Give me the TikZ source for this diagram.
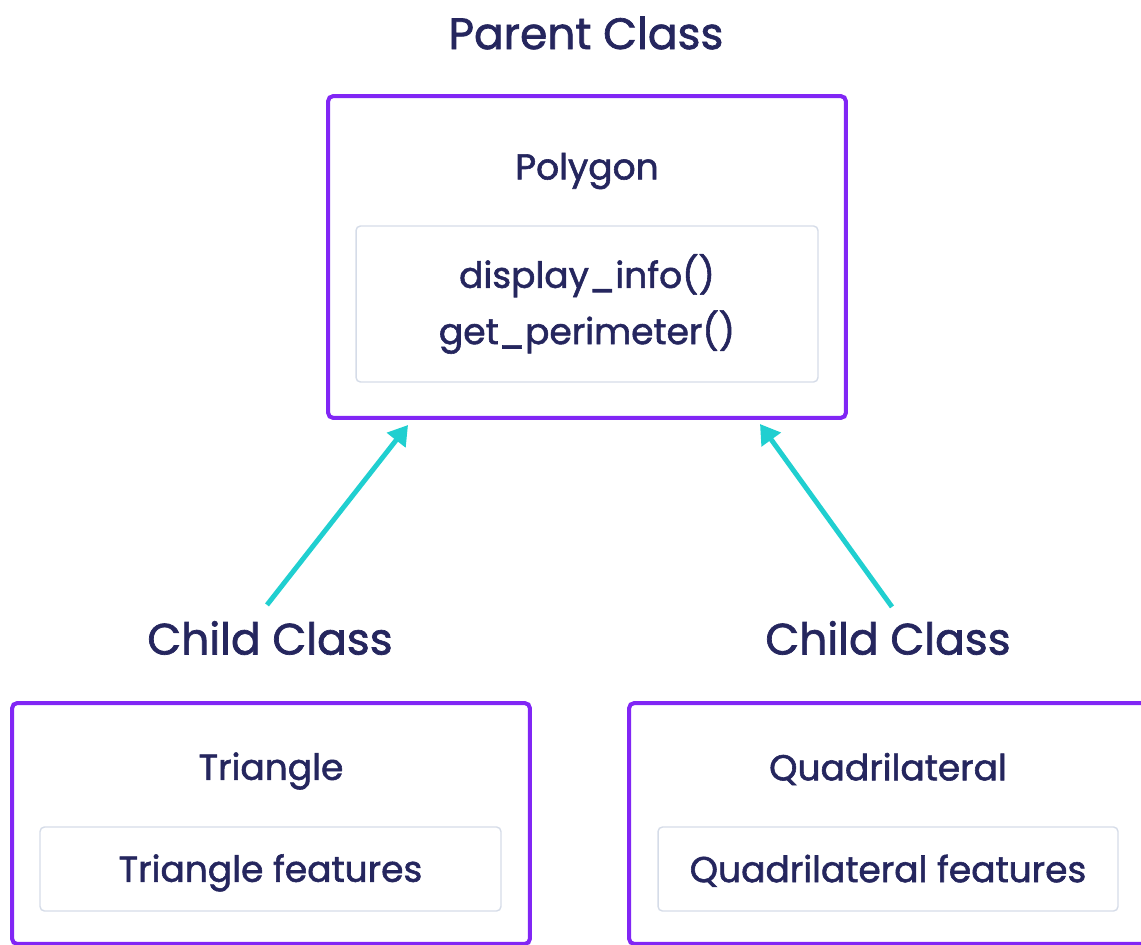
\documentclass[tikz,border=0pt]{standalone}
\usepackage{fontspec}
\setmainfont{Poppins}[FakeBold=1.6]
\usetikzlibrary{arrows.meta,positioning,calc}

\definecolor{boxpurple}{HTML}{8126F5}
\definecolor{arrowteal}{HTML}{20CFD0}
\definecolor{textnavy}{HTML}{25265E}
\definecolor{innergrey}{HTML}{D5DCE8}

\tikzset{
  heading/.style={text=textnavy, font=\fontsize{25}{30}\selectfont},
  classname/.style={text=textnavy, font=\fontsize{20.5}{25}\selectfont},
  classbox/.style={draw=boxpurple, line width=2.3pt, rounded corners=3pt,
    minimum width=10.36cm, minimum height=4.82cm},
  featbox/.style={draw=innergrey, line width=0.8pt, rounded corners=2.5pt,
    minimum height=1.68cm},
  feattext/.style={text=textnavy, font=\fontsize{20.5}{32}\selectfont, align=center},
  inherit/.style={draw=arrowteal, line width=2.8pt,
    -{Triangle[length=11pt,width=13pt]}},
}

\begin{document}
\begin{tikzpicture}[x=0.02cm, y=-0.02cm]
        \useasboundingbox (0,0) rectangle (1141,945);
        \clip (0,0) rectangle (1141,945);

        % Parent class
        \node[heading] (parent) at (586,33) {Parent Class};
        \node[classbox, minimum height=6.44cm] (poly) at (587,257) {};
        \node[classname] (polyname) at (587,171) {Polygon};
        \node[featbox, minimum width=9.24cm, minimum height=3.12cm] (polyfeat) at (587,304) {};
        \node[feattext] (polyops) at (polyfeat) {display\_info()\\get\_perimeter()};

        % Child classes
        \node[heading] (childL) at (270,638) {Child Class};
        \node[heading] (childR) at (888,638) {Child Class};

        \node[classbox] (tri) at (271,823.5) {};
        \node[classname] (triname) at (271,771) {Triangle};
        \node[featbox, minimum width=9.22cm] (trifeat) at (270.5,869) {};
        \node[feattext] (tritext) at ([yshift=-2.2pt]trifeat) {Triangle features};

        \node[classbox] (quad) at (888,823.5) {};
        \node[classname] (quadname) at (888,769) {Quadrilateral};
        \node[featbox, minimum width=9.2cm] (quadfeat) at (888,869) {};
        \node[feattext] (quadtext) at ([yshift=-1pt]quadfeat) {Quadrilateral features};

        % Inheritance arrows
        \draw[inherit] ($(childL.north)+(-3,-10)$) -- ($(poly.south west)+(82,5)$);
        \draw[inherit] ($(childR.north)+(4,-8)$) -- ($(poly.south east)+(-88,4)$);

    \end{tikzpicture}
\end{document}
